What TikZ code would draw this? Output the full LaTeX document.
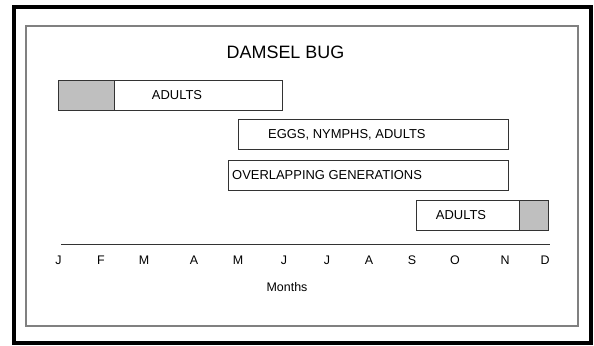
\documentclass[tikz,border=0pt]{standalone}
\usepackage{fontspec}
\setmainfont{Liberation Sans}
\usetikzlibrary{positioning}
\definecolor{bargray}{gray}{0.75}
\definecolor{edgegray}{gray}{0.2}
\tikzset{
    bar/.style={rectangle, draw=edgegray, line width=0.9bp, inner sep=0pt, outer sep=0pt, minimum height=30bp, anchor=north west},
    winter/.style={bar, fill=bargray},
    stage/.style={font=\fontsize{13}{15}\selectfont, inner sep=0pt, text height=9.3bp, text depth=0pt},
    month/.style={font=\fontsize{12.5}{15}\selectfont, inner sep=0pt, text height=9bp, text depth=0pt}
}

\begin{document}
\begin{tikzpicture}[x=1bp, y=-1bp]
    \useasboundingbox (0,0) rectangle (594,345);
    % frames
    \draw[line width=4bp] (14,7) rectangle (591,343);
    \draw[gray, line width=1.3bp] (26,26) rectangle (578,326);

    \node[font=\fontsize{18}{20}\selectfont, inner sep=0pt] (title) at (285.5,52) {DAMSEL BUG};

    % life stages
    \node[bar, minimum width=224bp]    (early)    at (58,80)  {};
    \node[winter, minimum width=56bp]  (janfeb)   at (58,80)  {};
    \node[stage]                       (earlytxt) at (177,95) {ADULTS};

    \node[bar, minimum width=270bp]    (eggs)     at (238,119) {};
    \node[stage, anchor=west]          (eggstxt)  at (268,134) {EGGS, NYMPHS, ADULTS};

    \node[bar, minimum width=280bp]    (overlap)  at (228,160) {};
    \node[stage, anchor=west]          (overtxt)  at (232,175) {OVERLAPPING GENERATIONS};

    \node[bar, minimum width=132bp]    (late)     at (416,200) {};
    \node[winter, minimum width=29bp]  (dec)      at (519,200) {};
    \node[stage]                       (latetxt)  at (461,215) {ADULTS};

    % months axis
    \coordinate (axl) at (61,244);
    \coordinate (axr) at (550,244);
    \draw[edgegray, line width=1bp] (axl) -- (axr);
    \foreach \m/\x [count=\i] in {J/58.5,F/101,M/144,A/194,M/238,J/284,J/327,A/369,S/412,O/455,N/505,D/545}
        \node[month] (mon\i) at (\x,260) {\m};
    \node[month] (months) at (287,287) {Months};
\end{tikzpicture}
\end{document}
